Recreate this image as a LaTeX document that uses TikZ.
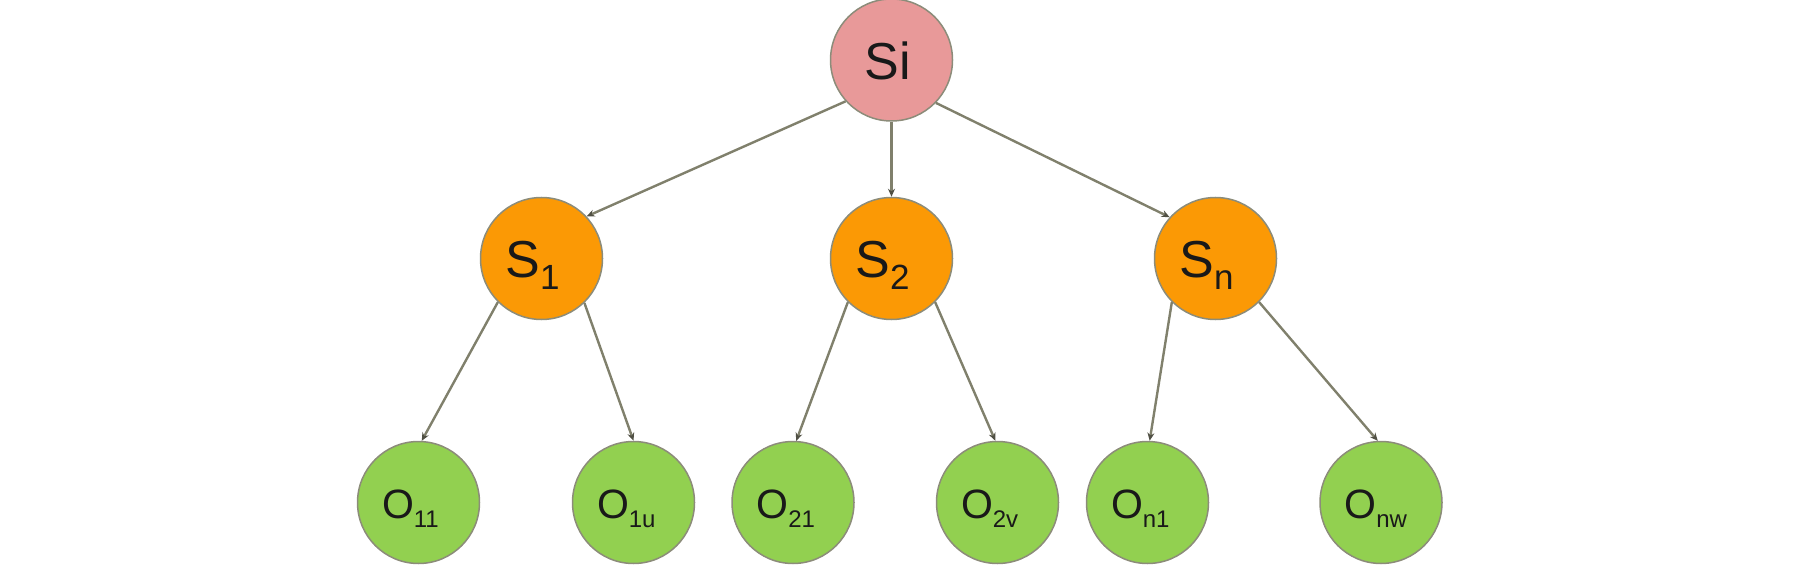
\documentclass[tikz,border=0pt]{standalone}
\usepackage{fontspec}
\setmainfont{Liberation Sans}
\usetikzlibrary{arrows.meta}
\definecolor{sipink}{RGB}{232,153,153}
\definecolor{sorange}{RGB}{251,153,5}
\definecolor{ogreen}{RGB}{146,208,80}
\definecolor{rimgray}{RGB}{140,140,122}
\definecolor{edgegray}{RGB}{128,128,108}
\definecolor{tipgray}{RGB}{80,80,68}
\newcommand\ssub[1]{\raisebox{-12pt}{\fontsize{35}{35}\selectfont #1}}
\newcommand\osub[1]{\raisebox{-9pt}{\fontsize{24}{24}\selectfont #1}}
\tikzset{
  ball/.style={circle, draw=rimgray, line width=1.5pt, minimum size=122pt, inner sep=0pt},
  sinode/.style={ball, fill=sipink},
  snode/.style={ball, fill=sorange},
  onode/.style={ball, fill=ogreen},
  lbl/.style={anchor=base west, inner sep=0pt, outer sep=0pt, text=black!90},
  bigtxt/.style={lbl, font=\fontsize{52}{52}\selectfont},
  otxt/.style={lbl, font=\fontsize{41}{41}\selectfont},
  link/.style={draw=edgegray, line width=2.4pt, -{Stealth[length=8pt,width=7pt,color=tipgray]}}
}
\begin{document}
\begin{tikzpicture}[x=1pt,y=-1pt]
\useasboundingbox (0,0) rectangle (1800,572);
% nodes
\node[sinode] (Si) at (891.5,60) {};
\node[snode] (S1) at (541.5,258.5) {};
\node[snode] (S2) at (891.5,258.5) {};
\node[snode] (Sn) at (1215.5,258.5) {};
\node[onode] (O11) at (418.5,502.5) {};
\node[onode] (O1u) at (633.5,502.5) {};
\node[onode] (O21) at (793,502.5) {};
\node[onode] (O2v) at (997.5,502.5) {};
\node[onode] (On1) at (1147.5,502.5) {};
\node[onode] (Onw) at (1381,502.5) {};
% labels
\node[bigtxt] (Sit) at ([shift={(-27,20)}]Si.center) {Si};
\node[bigtxt] (S1t) at ([shift={(-36,19.5)}]S1.center) {S\ssub{1}};
\node[bigtxt] (S2t) at ([shift={(-36,19.5)}]S2.center) {S\ssub{2}};
\node[bigtxt] (Snt) at ([shift={(-36,19.5)}]Sn.center) {S\ssub{n}};
\node[otxt] (O11t) at ([shift={(-36.5,15.5)}]O11.center) {O\osub{11}};
\node[otxt] (O1ut) at ([shift={(-36.5,15.5)}]O1u.center) {O\osub{1u}};
\node[otxt] (O21t) at ([shift={(-36.5,15.5)}]O21.center) {O\osub{21}};
\node[otxt] (O2vt) at ([shift={(-36.5,15.5)}]O2v.center) {O\osub{2v}};
\node[otxt] (On1t) at ([shift={(-36.5,15.5)}]On1.center) {O\osub{n1}};
\node[otxt] (Onwt) at ([shift={(-36.5,15.5)}]Onw.center) {O\osub{nw}};
% connectors
\draw[link] (Si.222) -- (S1.43);
\draw[link] (Si.south) -- (S2.north);
\draw[link] (Si.316) -- (Sn.138);
\draw[link] (S1.225) -- (O11.87);
\draw[link] (S1.314) -- (O1u.90);
\draw[link] (S2.225) -- (O21.87);
\draw[link] (S2.315) -- (O2v.92);
\draw[link] (Sn.225) -- (On1.88);
\draw[link] (Sn.315) -- (Onw.93);
\end{tikzpicture}
\end{document}
